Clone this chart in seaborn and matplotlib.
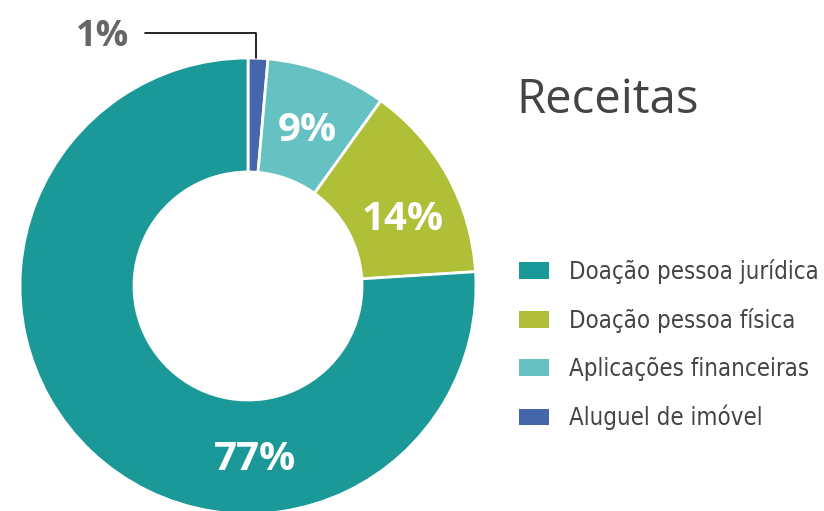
import matplotlib
matplotlib.use("Agg")
import matplotlib.pyplot as plt
import seaborn as sns

# dados do gráfico de receitas
categorias = ["Aluguel de imóvel", "Aplicações financeiras", "Doação pessoa física", "Doação pessoa jurídica"]
valores = [1.4, 8.5, 14.1, 76.0]
rotulos = ["1%", "9%", "14%", "77%"]
cores = ["#4666AC", "#66C2C2", "#AFBF38", "#1B9999"]
ordem_legenda = [3, 2, 1, 0]

sns.set_theme(style="white")
plt.rcParams["font.family"] = ["DejaVu Sans"]

fig = plt.figure(figsize=(8.24, 5.11), dpi=100)
ax = fig.add_axes([20 / 824, -3 / 511, 456 / 824, 456 / 511])

wedges, _ = ax.pie(
    valores,
    colors=sns.color_palette(cores),
    startangle=90,
    counterclock=False,
    radius=1.0,
    wedgeprops=dict(width=0.5, edgecolor="white", linewidth=2),
)
ax.set_xlim(-1, 1)
ax.set_ylim(-1, 1)
ax.set_aspect("equal")
ax.axis("off")

fonte_num = ["Open Sans", "DejaVu Sans"]

# rótulos dentro das fatias (exceto o menor)
ax.text(0.26, 0.68, rotulos[1], color="white", fontsize=29, fontweight="bold",
        ha="center", va="center", family=fonte_num)
ax.text(0.68, 0.29, rotulos[2], color="white", fontsize=29, fontweight="bold",
        ha="center", va="center", family=fonte_num)
ax.text(0.03, -0.76, rotulos[3], color="white", fontsize=29, fontweight="bold",
        ha="center", va="center", family=fonte_num)

# rótulo externo do 1% com linha guia
ax.plot([-0.45, 0.035, 0.035], [1.11, 1.11, 1.0], color="black", lw=1.2, clip_on=False)
ax.text(-0.64, 1.09, rotulos[0], color="#666666", fontsize=26, fontweight="bold",
        ha="center", va="center", family=fonte_num)

fig.text(516 / 824, 1 - 100 / 511, "Receitas", color="#444444", fontsize=34,
         fontweight="medium", ha="left", va="center", family=fonte_num)

leg = fig.legend(
    [wedges[i] for i in ordem_legenda],
    [categorias[i] for i in ordem_legenda],
    loc="upper left",
    bbox_to_anchor=(519 / 824, 1 - 259 / 511),
    frameon=False,
    prop=dict(family="DejaVu Sans", stretch="condensed", size=17.2),
    borderpad=0,
    borderaxespad=0,
    handlelength=1.25,
    handleheight=0.67,
    handletextpad=0.84,
    labelspacing=1.0,
)
for t in leg.get_texts():
    t.set_color("#444444")
for h in leg.legend_handles:
    h.set_edgecolor("none")

fig.savefig("out.png", dpi=100)
